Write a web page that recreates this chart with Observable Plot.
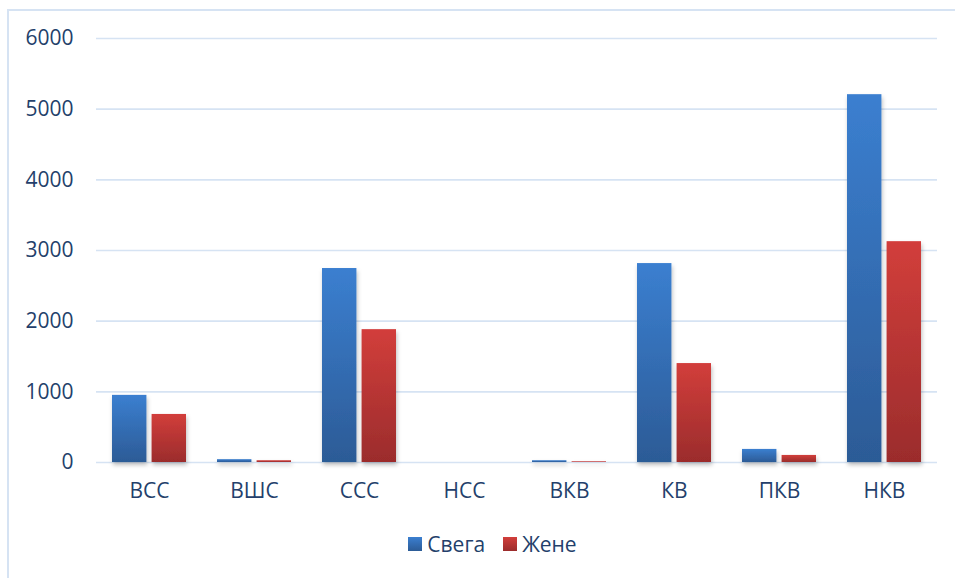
<!DOCTYPE html>
<html><head><meta charset="utf-8">
<script src="https://cdn.jsdelivr.net/npm/d3@7"></script>
<script src="https://cdn.jsdelivr.net/npm/@observablehq/plot@0.6"></script>
<style>
body{margin:0;background:#fff;font-family:"Open Sans",sans-serif;}
#frame{position:absolute;left:7px;top:9px;width:960px;height:600px;border:2px solid #d6e3f3;box-sizing:border-box;}
#chart{position:absolute;left:0;top:0;}
#legend{position:absolute;top:530px;left:0;width:955px;display:flex;justify-content:center;gap:18px;font-size:21px;color:#243f6b;padding-left:30px;box-sizing:border-box;}
#legend span.item{display:flex;align-items:center;gap:5px;}
#legend i{display:inline-block;width:14px;height:14px;}
</style></head><body>
<div id="frame"></div>
<div id="chart"></div>
<div id="legend"></div>
<script>
const categories = ["ВСС","ВШС","ССС","НСС","ВКВ","КВ","ПКВ","НКВ"];
const series = ["Свега","Жене"];
const svega = [950, 40, 2745, 0, 25, 2815, 185, 5205];
const zene  = [680, 25, 1880, 0, 10, 1400, 100, 3125];
const yTicks = [0,1000,2000,3000,4000,5000,6000];

const dataS = categories.map((c,i)=>({cat:c, series:"Свега", value:svega[i]}));
const dataZ = categories.map((c,i)=>({cat:c, series:"Жене", value:zene[i]}));

const W = 955, H = 520, mL = 96, mR = 18, mT = 38, mB = 58;
const step = (W - mL - mR) / categories.length;
const band = step * 0.7;
const barW = 34;
const inset = band - barW;

const txt = "#243f6b";
const plot = Plot.plot({
  width: W, height: H,
  marginLeft: mL, marginRight: mR, marginTop: mT, marginBottom: mB,
  style: {fontFamily: "'Open Sans', sans-serif", fontSize: "21px", color: txt, background: "transparent"},
  x: {domain: categories, paddingInner: 0.3, paddingOuter: 0.15, label: null},
  y: {domain: [0, 6000], label: null},
  marks: [
    Plot.gridY(yTicks, {stroke: "#d6e3f3", strokeOpacity: 1, strokeWidth: 1.6}),
    Plot.barY(dataS, {x: "cat", y: "value", fill: "url(#gBlue)", insetRight: inset, insetLeft: 0, filter: d => d.value > 0}),
    Plot.barY(dataZ, {x: "cat", y: "value", fill: "url(#gRed)", insetLeft: inset, insetRight: 0, filter: d => d.value > 0}),
    Plot.axisY(yTicks, {tickSize: 0, tickPadding: 23, label: null, fill: txt, fontSize: 21, tickFormat: d => String(d)}),
    Plot.axisX({tickSize: 0, tickPadding: 21, label: null, fill: txt, fontSize: 21})
  ]
});
const ns = "http://www.w3.org/2000/svg";
const defs = document.createElementNS(ns, "defs");
defs.innerHTML = `
<linearGradient id="gBlue" x1="0" y1="0" x2="0" y2="1">
  <stop offset="0" stop-color="#3b7fd0"/><stop offset="1" stop-color="#2c5b96"/>
</linearGradient>
<linearGradient id="gRed" x1="0" y1="0" x2="0" y2="1">
  <stop offset="0" stop-color="#d23e3b"/><stop offset="1" stop-color="#9b2c2c"/>
</linearGradient>
<filter id="sh" x="-30%" y="-10%" width="160%" height="130%">
  <feDropShadow dx="1" dy="3" stdDeviation="2" flood-color="#000" flood-opacity="0.25"/>
</filter>`;
plot.insertBefore(defs, plot.firstChild);
plot.querySelectorAll("g[aria-label='bar']").forEach(g => g.setAttribute("filter", "url(#sh)"));
document.getElementById("chart").appendChild(plot);

const colors = {"Свега": "linear-gradient(#3b7fd0,#2c5b96)", "Жене": "linear-gradient(#d23e3b,#9b2c2c)"};
const leg = document.getElementById("legend");
series.forEach(s => {
  const it = document.createElement("span"); it.className = "item";
  const sw = document.createElement("i"); sw.style.background = colors[s];
  const t = document.createElement("span"); t.textContent = s;
  it.appendChild(sw); it.appendChild(t); leg.appendChild(it);
});
</script>
</body></html>
